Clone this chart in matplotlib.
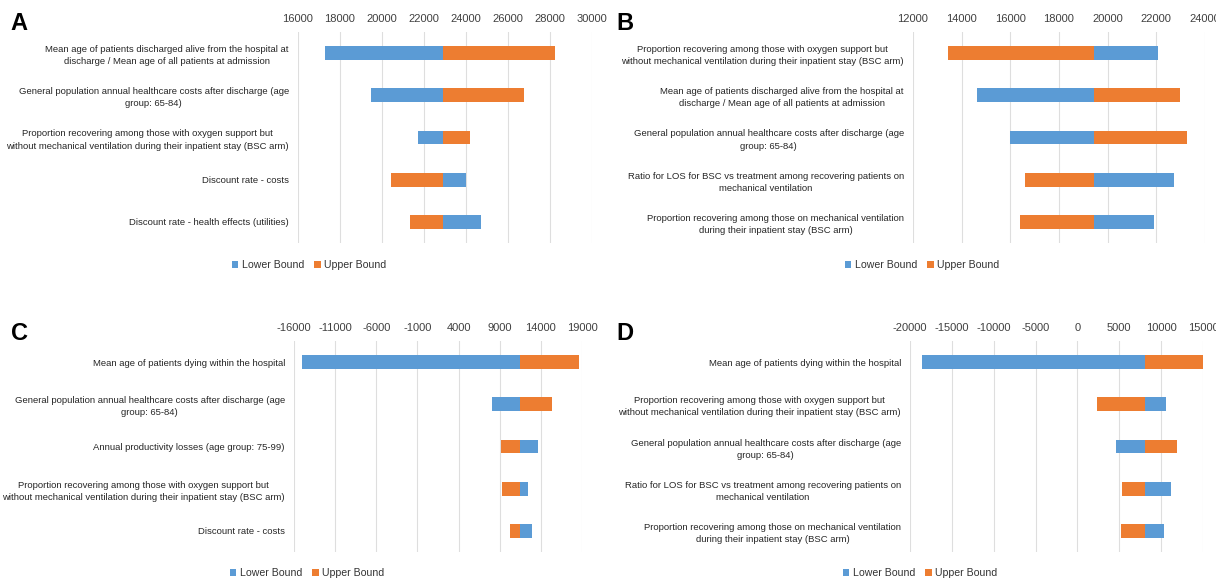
import matplotlib
matplotlib.use('Agg')
import matplotlib.pyplot as plt
import numpy as np

plt.rcParams['font.family'] = ['Liberation Sans', 'DejaVu Sans']

# Labels for the tornado diagrams
lab_age_disc = 'Mean age of patients discharged alive from the hospital at\ndischarge / Mean age of all patients at admission'
lab_gen_pop = 'General population annual healthcare costs after discharge (age\ngroup: 65-84)'
lab_oxygen = 'Proportion recovering among those with oxygen support but\nwithout mechanical ventilation during their inpatient stay (BSC arm)'
lab_disc_costs = 'Discount rate - costs'
lab_disc_health = 'Discount rate - health effects (utilities)'
lab_los = 'Ratio for LOS for BSC vs treatment among recovering patients on\nmechanical ventilation'
lab_mech = 'Proportion recovering among those on mechanical ventilation\nduring their inpatient stay (BSC arm)'
lab_age_dying = 'Mean age of patients dying within the hospital'
lab_prod = 'Annual productivity losses (age group: 75-99)'

# Panel A
cats_a = [lab_age_disc, lab_gen_pop, lab_oxygen, lab_disc_costs, lab_disc_health]
base_a = 22900
lower_a = [17280, 19490, 21710, 23990, 24730]
upper_a = [28260, 26760, 24180, 20430, 21320]
ticks_a = [16000, 18000, 20000, 22000, 24000, 26000, 28000, 30000]

# Panel B
cats_b = [lab_oxygen, lab_age_disc, lab_gen_pop, lab_los, lab_mech]
base_b = 19450
lower_b = [22070, 14630, 15990, 22710, 21900]
upper_b = [13450, 22980, 23280, 16610, 16380]
ticks_b = [12000, 14000, 16000, 18000, 20000, 22000, 24000]

# Panel C
cats_c = [lab_age_dying, lab_gen_pop, lab_prod, lab_oxygen, lab_disc_costs]
base_c = 11480
lower_c = [-15000, 8080, 13610, 12480, 12900]
upper_c = [18630, 15320, 9170, 9260, 10250]
ticks_c = [-16000, -11000, -6000, -1000, 4000, 9000, 14000, 19000]

# Panel D
cats_d = [lab_age_dying, lab_oxygen, lab_gen_pop, lab_los, lab_mech]
base_d = 8080
lower_d = [-18510, 10550, 4650, 11200, 10360]
upper_d = [15000, 2280, 11890, 5300, 5160]
ticks_d = [-20000, -15000, -10000, -5000, 0, 5000, 10000, 15000]

blue = '#5B9BD5'
orange = '#ED7D31'

W, H = 1216, 579
fig = plt.figure(figsize=(W / 100, H / 100), dpi=100)


def px_axes(x0, x1, y0, y1):
    # pixel box (from top-left) -> figure axes
    return fig.add_axes([x0 / W, 1 - y1 / H, (x1 - x0) / W, (y1 - y0) / H])


def tornado(ax, cats, base, lower, upper, ticks, letter, letter_xy, legend_xy):
    y = np.arange(len(cats))
    lower = np.array(lower)
    upper = np.array(upper)
    ax.barh(y, lower - base, left=base, height=0.33, color=blue, label='Lower Bound', zorder=3)
    ax.barh(y, upper - base, left=base, height=0.33, color=orange, label='Upper Bound', zorder=3)
    ax.set_xlim(ticks[0], ticks[-1])
    ax.set_ylim(len(cats) - 0.5, -0.5)
    ax.set_xticks(ticks)
    ax.set_xticklabels([str(t) for t in ticks])
    ax.xaxis.tick_top()
    ax.set_yticks(y)
    ax.set_yticklabels(cats, multialignment='center')
    ax.tick_params(axis='x', length=0, pad=6, labelsize=8, labelcolor='#404040')
    ax.tick_params(axis='y', length=0, pad=6.5, labelsize=6.8, labelcolor='#262626')
    for t in ax.get_yticklabels():
        t.set_linespacing(1.45)
    for s in ax.spines.values():
        s.set_visible(False)
    ax.grid(axis='x', color='#DEDEDE', linewidth=0.8, zorder=0)
    ax.set_axisbelow(True)
    fig.text(letter_xy[0] / W, 1 - letter_xy[1] / H, letter, fontsize=17, fontweight='bold',
             ha='center', va='center')
    ax.legend(loc='center', bbox_to_anchor=(legend_xy[0] / W, 1 - legend_xy[1] / H),
              bbox_transform=fig.transFigure, ncol=2, frameon=False, fontsize=7.6,
              handlelength=0.6, handleheight=0.6, handletextpad=0.3, columnspacing=1.0,
              labelcolor='#333333')


ax_a = px_axes(298, 592, 32, 243)
tornado(ax_a, cats_a, base_a, lower_a, upper_a, ticks_a, 'A', (19, 24), (309, 265))

ax_b = px_axes(913, 1205, 32, 243)
tornado(ax_b, cats_b, base_b, lower_b, upper_b, ticks_b, 'B', (625, 24), (922, 265))

ax_c = px_axes(294, 582, 341, 552)
tornado(ax_c, cats_c, base_c, lower_c, upper_c, ticks_c, 'C', (19, 333), (307, 573))

ax_d = px_axes(910, 1203, 341, 552)
tornado(ax_d, cats_d, base_d, lower_d, upper_d, ticks_d, 'D', (625, 333), (920, 573))

plt.savefig('out.png', dpi=100)
